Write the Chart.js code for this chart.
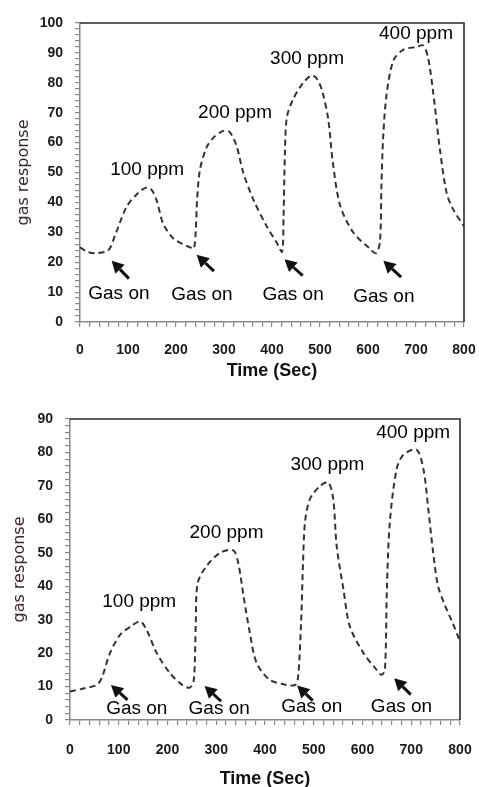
<!DOCTYPE html>
<html>
<head>
<meta charset="utf-8">
<script src="https://cdn.jsdelivr.net/npm/chart.js@4.4.1/dist/chart.umd.min.js"></script>
<style>
  html, body { margin: 0; padding: 0; background: #fff; width: 479px; height: 787px; overflow: hidden; }
  .wrap { position: absolute; left: 0; }
  canvas { display: block; }
</style>
</head>
<body>
<div class="wrap" style="top:0"><canvas id="c1" width="479" height="390"></canvas></div>
<div class="wrap" style="top:390px"><canvas id="c2" width="479" height="400"></canvas></div>
<script>
// ---------- Data (top chart) ----------
const topTime = [0, 15, 31, 59, 73, 97, 120, 139, 150, 160, 173, 194, 215, 229, 237, 241, 244, 250, 264, 280, 300, 312, 326, 340, 361, 389, 410, 421, 424, 427, 431, 444, 465, 483, 495, 505, 517, 527, 542, 569, 604, 617, 625, 628, 632, 639, 653, 673, 701, 715, 725, 736, 750, 764, 778, 800];
const topResponse = [25, 23.5, 23, 24, 29, 38.5, 43, 45, 44, 40.5, 33, 28, 26, 25, 24.5, 30, 41, 51, 58.5, 62, 64, 63.5, 59, 50, 41, 32, 26.5, 23.5, 35, 57, 68.5, 74.5, 80, 82.5, 81, 77, 68, 53, 39, 30, 24.5, 23, 27, 46, 63, 76.5, 87.5, 91, 92, 92.5, 88.5, 76.5, 57.5, 43, 37.5, 32];
const topYMax = 100;
const topPpmLabels = ['100 ppm', '200 ppm', '300 ppm', '400 ppm'];
const topPpmAt = [[140, 50.8], [323, 69.9], [473, 88], [700, 96.3]];
const topGasOnAt = [[81, 9.4], [254, 9], [444, 9], [633, 8.4]];
const topArrows = [[102, 14.5, 66, 20.5], [279, 17, 243, 22.5], [464, 15.5, 426, 21], [669, 15, 632, 20.5]];

// ---------- Data (bottom chart) ----------
const botTime = [0, 30, 55, 65, 82, 103, 125, 144, 157, 178, 205, 230, 246, 254, 258, 262, 280, 308, 335, 345, 356, 369, 383, 410, 444, 462, 468, 474, 478, 482, 492, 513, 530, 540, 547, 561, 574, 602, 629, 639, 646, 650, 656, 670, 684, 711, 725, 735, 745, 755, 770, 785, 800];
const botResponse = [8.5, 9.5, 10.5, 12.5, 20, 25.5, 28, 29.5, 27, 20, 14, 10.5, 9.7, 12, 29, 41, 46, 50, 50.7, 47, 37, 26, 17, 12, 10.5, 10.5, 13, 29, 47, 59, 66, 70, 71, 66, 52, 39, 28, 20, 15, 13.5, 15, 39, 59, 75, 79.3, 80.8, 75, 63, 50, 40, 34, 29, 23.5];
const botYMax = 90;
const botPpmLabels = ['100 ppm', '200 ppm', '300 ppm', '400 ppm'];
const botPpmAt = [[142, 35.4], [321, 55.9], [528, 76.3], [704, 85.8]];
const botGasOnAt = [[137, 3.3], [306, 3.3], [496, 4], [680, 4]];
const botArrows = [[118, 6, 84, 10.5], [310, 5.6, 276, 10.2], [498, 5.8, 466, 10.3], [699, 7.6, 665, 12.5]];

const xTickStep = 20;
const xMax = 800;
const gasOnText = 'Gas on';

Chart.defaults.font.family = '"Liberation Sans", Arial, sans-serif';

const annotPlugin = {
  id: 'annot',
  afterDatasetsDraw(chart, args, opts) {
    const {ctx, chartArea: a, scales: {x, y}} = chart;
    ctx.save();
    // top & right frame lines
    ctx.strokeStyle = '#2a2a2a';
    ctx.lineWidth = 1.6;
    ctx.beginPath();
    ctx.moveTo(a.left, a.top);
    ctx.lineTo(a.right, a.top);
    ctx.lineTo(a.right, a.bottom);
    ctx.stroke();
    // texts
    ctx.fillStyle = '#000';
    ctx.textAlign = 'center';
    ctx.textBaseline = 'middle';
    ctx.font = '19px "Liberation Sans", Arial, sans-serif';
    opts.ppm.forEach((p, i) => ctx.fillText(opts.ppmLabels[i], x.getPixelForValue(p[0]), y.getPixelForValue(p[1])));
    opts.gas.forEach(p => ctx.fillText(gasOnText, x.getPixelForValue(p[0]), y.getPixelForValue(p[1])));
    // arrows
    ctx.strokeStyle = '#111';
    ctx.fillStyle = '#111';
    ctx.lineWidth = 3;
    opts.arrows.forEach(ar => {
      const x0 = x.getPixelForValue(ar[0]), y0 = y.getPixelForValue(ar[1]);
      const x1 = x.getPixelForValue(ar[2]), y1 = y.getPixelForValue(ar[3]);
      const ang = Math.atan2(y1 - y0, x1 - x0);
      const hl = 12, hw = 6.5;
      const bx = x1 - hl * Math.cos(ang), by = y1 - hl * Math.sin(ang);
      ctx.beginPath();
      ctx.moveTo(x0, y0);
      ctx.lineTo(bx, by);
      ctx.stroke();
      ctx.beginPath();
      ctx.moveTo(x1, y1);
      ctx.lineTo(bx + hw * Math.sin(ang), by - hw * Math.cos(ang));
      ctx.lineTo(bx - hw * Math.sin(ang), by + hw * Math.cos(ang));
      ctx.closePath();
      ctx.fill();
    });
    ctx.restore();
  }
};

function makeChart(id, times, values, yMax, yWidth, xHeight, pad, yTitlePad, xTitlePad, xTickPad, ann) {
  return new Chart(document.getElementById(id), {
    type: 'line',
    data: {
      datasets: [{
        data: times.map((t, i) => ({x: t, y: values[i]})),
        borderColor: '#333',
        borderWidth: 2,
        borderDash: [6, 4],
        pointRadius: 0,
        tension: 0.3,
        fill: false
      }]
    },
    options: {
      responsive: false,
      animation: false,
      events: [],
      layout: {padding: pad},
      plugins: {legend: {display: false}, tooltip: {enabled: false}, annot: ann},
      scales: {
        x: {
          type: 'linear', min: 0, max: xMax,
          afterFit: s => { s.height = xHeight; s.paddingLeft = 0; s.paddingRight = 0; },
          ticks: {
            stepSize: xTickStep, autoSkip: false, maxRotation: 0, padding: xTickPad,
            callback: v => (v % 100 === 0 ? v : ''),
            font: {size: 14, weight: 'bold'}, color: '#1a1a1a'
          },
          grid: {drawOnChartArea: false, tickLength: 5, color: '#888', lineWidth: 1.2},
          border: {color: '#888', width: 1.5},
          title: {display: true, text: 'Time (Sec)', font: {size: 18, weight: 'bold'}, color: '#111', padding: {top: 0, bottom: xTitlePad}}
        },
        y: {
          min: 0, max: yMax,
          afterFit: s => { s.width = yWidth; s.paddingTop = 0; s.paddingBottom = 0; },
          ticks: {
            stepSize: 2, autoSkip: false, padding: 12,
            callback: v => (v % 10 === 0 ? v : ''),
            font: {size: 14, weight: 'bold'}, color: '#1a1a1a'
          },
          grid: {drawOnChartArea: false, tickLength: 5, color: '#888', lineWidth: 1.2},
          border: {color: '#888', width: 1.5},
          title: {display: true, text: 'gas response', font: {size: 16, family: '"DejaVu Sans", sans-serif'}, color: '#3d2630', padding: {top: yTitlePad, bottom: 0}}
        }
      }
    },
    plugins: [annotPlugin]
  });
}

makeChart('c1', topTime, topResponse, topYMax, 80, 68, {top: 23, right: 15, left: 0, bottom: 0}, 14, 8, 15,
  {ppm: topPpmAt, ppmLabels: topPpmLabels, gas: topGasOnAt, arrows: topArrows});
makeChart('c2', botTime, botResponse, botYMax, 70, 70, {top: 29, right: 19, left: 0, bottom: 0}, 10, 0, 17,
  {ppm: botPpmAt, ppmLabels: botPpmLabels, gas: botGasOnAt, arrows: botArrows});
</script>
</body>
</html>
